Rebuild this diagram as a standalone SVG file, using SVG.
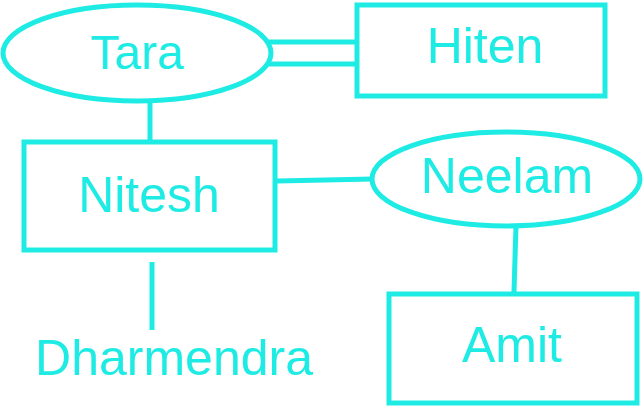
<svg xmlns="http://www.w3.org/2000/svg" width="644" height="407" viewBox="0 0 644 407">
<style>
.s{fill:#fff;stroke:#1EECE4;stroke-width:5}
.l{fill:none;stroke:#1EECE4;stroke-width:5}
text{font-family:"Liberation Sans",Arial,sans-serif;font-size:50px;fill:#1EECE4;text-anchor:middle}
</style>
<rect width="644" height="407" fill="#fff"/>
<g id="connectors">
<line class="l" x1="268" y1="42" x2="358" y2="42"/>
<line class="l" x1="268" y1="64" x2="358" y2="64"/>
<line class="l" x1="150" y1="101" x2="150" y2="140"/>
<line class="l" x1="277" y1="181" x2="373" y2="179"/>
<line class="l" x1="516" y1="225" x2="514" y2="292"/>
<line class="l" x1="152" y1="262" x2="152" y2="330"/>
</g>
<g id="tara"><ellipse class="s" cx="137" cy="53" rx="134" ry="48"/><text x="137" y="69" style="font-size:48px">Tara</text></g>
<g id="hiten"><rect class="s" x="357" y="5" width="248" height="91"/><text x="485" y="63">Hiten</text></g>
<g id="nitesh"><rect class="s" x="24" y="142" width="251" height="108"/><text x="149" y="212">Nitesh</text></g>
<g id="neelam"><ellipse class="s" cx="506" cy="179" rx="134" ry="47"/><text x="507" y="193">Neelam</text></g>
<g id="amit"><rect class="s" x="389" y="294" width="248" height="109"/><text x="512" y="362">Amit</text></g>
<g id="dharmendra"><text x="174" y="375">Dharmendra</text></g>
</svg>
